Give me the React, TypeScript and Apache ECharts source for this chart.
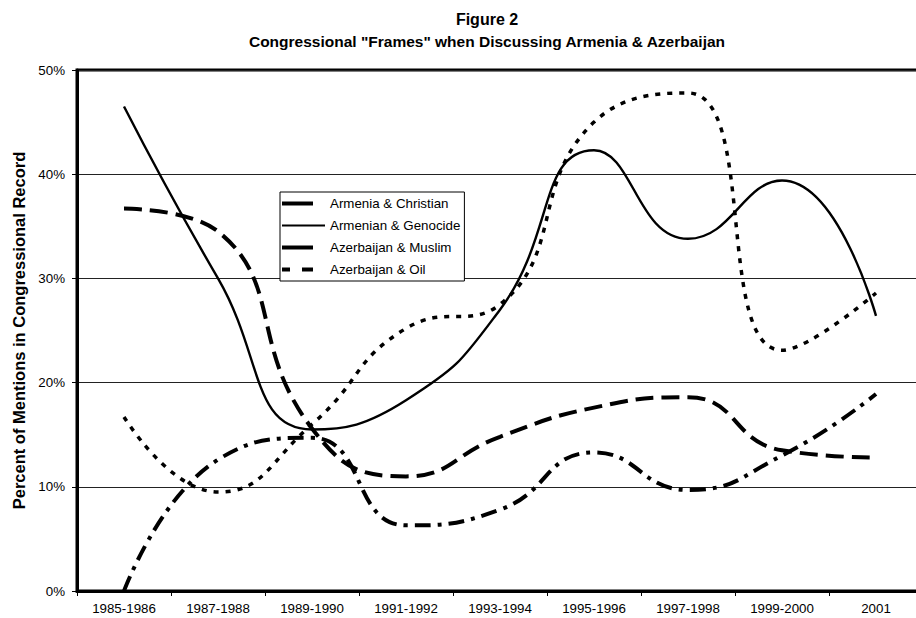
import React, { useEffect, useRef } from "react";
import * as echarts from "echarts";

const categories = [
  "1985-1986",
  "1987-1988",
  "1989-1990",
  "1991-1992",
  "1993-1994",
  "1995-1996",
  "1997-1998",
  "1999-2000",
  "2001",
];
const armeniaChristian = [36.7, 34.5, 15.6, 11.0, 14.8, 17.6, 18.6, 13.5, 12.8];
const armenianGenocide = [46.5, 30.0, 15.5, 18.3, 27.0, 42.3, 33.8, 39.4, 26.4];
const azerbaijanMuslim = [0.0, 12.6, 14.7, 6.3, 7.8, 13.3, 9.7, 13.0, 18.9];
const azerbaijanOil = [16.7, 9.5, 16.0, 25.2, 27.5, 45.0, 47.8, 23.1, 28.6];
const yTicks = [0, 10, 20, 30, 40, 50];
const seriesNames = [
  "Armenia & Christian",
  "Armenian & Genocide",
  "Azerbaijan & Muslim",
  "Azerbaijan & Oil",
];

const FONT = 'Arial, "Liberation Sans", Helvetica, sans-serif';

// legend icon shapes (43 x 15 box)
const BOX = "M0,0L0,0M43,15L43,15";
const legendIcons = [
  `path://${BOX}M0,5.5H31V9.5H0Z`,
  `path://${BOX}M0,6.5H43V8.5H0Z`,
  `path://${BOX}M0,5.5H31V9.5H0Z`,
  `path://${BOX}M0,5.5H8V9.5H0ZM20,5.5H31V9.5H20Z`,
];

export default function App() {
  const ref = useRef<HTMLDivElement>(null);
  useEffect(() => {
    if (!ref.current) return;
    const chart = echarts.init(ref.current, undefined, { renderer: "svg" });
    const smooth = 0.5;
    chart.setOption({
      animation: false,
      backgroundColor: "#fff",
      textStyle: { fontFamily: FONT },
      graphic: [
        {
          type: "text",
          x: 487,
          y: 19,
          style: {
            text: "Figure 2",
            font: `bold 16px ${FONT}`,
            fill: "#000",
            align: "center",
            verticalAlign: "middle",
          },
        },
        {
          type: "text",
          x: 487,
          y: 41,
          style: {
            text: 'Congressional "Frames" when Discussing Armenia & Azerbaijan',
            font: `bold 15.5px ${FONT}`,
            fill: "#000",
            align: "center",
            verticalAlign: "middle",
          },
        },
      ],
      grid: {
        left: 77,
        top: 70,
        width: 846,
        height: 521,
        outerBoundsMode: "none",
        containLabel: false,
        show: true,
        borderColor: "#000",
        borderWidth: 3,
        backgroundColor: "transparent",
      },
      legend: {
        orient: "vertical",
        left: 280,
        top: 192,
        itemWidth: 43,
        itemHeight: 15,
        itemGap: 7,
        padding: [4, 4, 4, 2],
        borderColor: "#000",
        borderWidth: 1,
        backgroundColor: "#fff",
        textStyle: { fontSize: 13.33, lineHeight: 15, color: "#000", fontFamily: FONT },
        data: seriesNames.map((name, i) => ({ name, icon: legendIcons[i] })),
      },
      xAxis: {
        type: "category",
        data: categories,
        boundaryGap: true,
        axisLine: { show: true, lineStyle: { color: "#000", width: 3 } },
        axisTick: { show: true, length: 5, lineStyle: { color: "#000", width: 1 } },
        axisLabel: { fontSize: 13.33, color: "#000", margin: 11, interval: 0, fontFamily: FONT },
        splitLine: { show: false },
      },
      yAxis: {
        type: "value",
        min: yTicks[0],
        max: yTicks[yTicks.length - 1],
        interval: 10,
        name: "Percent of Mentions in Congressional Record",
        nameLocation: "middle",
        nameGap: 48,
        nameTextStyle: { fontSize: 16.5, fontWeight: "bold", color: "#000", fontFamily: FONT },
        axisLine: { show: true, lineStyle: { color: "#000", width: 3 } },
        axisTick: { show: true, length: 5, lineStyle: { color: "#000", width: 1 } },
        axisLabel: { fontSize: 13.33, color: "#000", margin: 12, formatter: "{value}%", fontFamily: FONT },
        splitLine: { show: true, lineStyle: { color: "#222", width: 1 } },
      },
      series: [
        {
          name: seriesNames[0],
          type: "line",
          data: armeniaChristian,
          smooth,
          symbol: "none",
          lineStyle: { color: "#000", width: 4, type: [18, 8] },
          itemStyle: { color: "#000" },
        },
        {
          name: seriesNames[1],
          type: "line",
          data: armenianGenocide,
          smooth,
          symbol: "none",
          lineStyle: { color: "#000", width: 2.4, type: "solid" },
          itemStyle: { color: "#000" },
        },
        {
          name: seriesNames[2],
          type: "line",
          data: azerbaijanMuslim,
          smooth,
          symbol: "none",
          lineStyle: { color: "#000", width: 4, type: [16, 7, 4, 7] },
          itemStyle: { color: "#000" },
        },
        {
          name: seriesNames[3],
          type: "line",
          data: azerbaijanOil,
          smooth,
          symbol: "none",
          lineStyle: { color: "#000", width: 3.5, type: [5, 7] },
          itemStyle: { color: "#000" },
        },
      ],
    });
    return () => chart.dispose();
  }, []);
  return (
    <div
      ref={ref}
      style={{ position: "absolute", left: 0, top: 0, width: 916, height: 618 }}
    />
  );
}
